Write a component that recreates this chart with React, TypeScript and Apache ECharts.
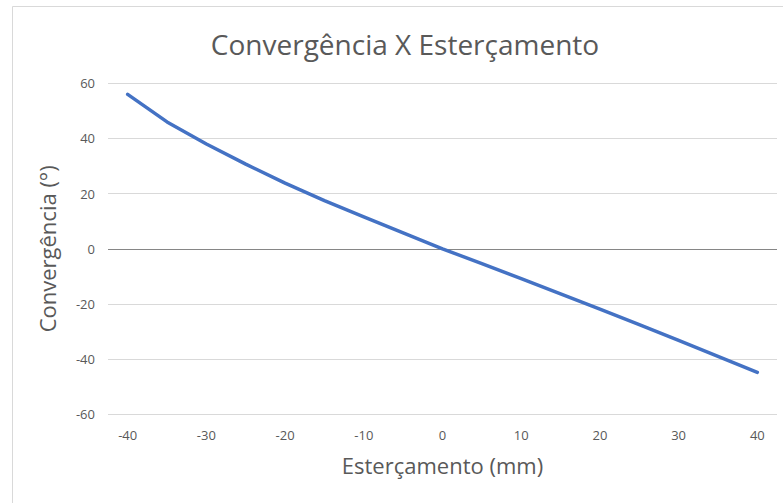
import React, { useEffect, useRef } from "react";
import * as echarts from "echarts";

const esterçamento = [-40, -35, -30, -25, -20, -15, -10, -5, 0, 5, 10, 15, 20, 25, 30, 35, 40];
const convergencia = [56, 46, 38, 30.7, 23.8, 17.5, 11.6, 5.8, 0, -5.4, -10.8, -16.3, -21.9, -27.5, -33.2, -39, -44.8];
const yTicks = [-60, -40, -20, 0, 20, 40, 60];

const titleText = "Convergência X Esterçamento";
const xName = "Esterçamento (mm)";
const yName = "Convergência (°)";

const FONT = "Open Sans";
const TEXT = "#595959";

export default function App() {
  const ref = useRef<HTMLDivElement>(null);
  useEffect(() => {
    if (!ref.current) return;
    const chart = echarts.init(ref.current, null, { renderer: "svg" });
    const splitColors = yTicks.map((t) => (t === 0 ? "#868686" : "#d9d9d9"));
    chart.setOption({
      animation: false,
      backgroundColor: "#ffffff",
      title: {
        text: titleText,
        left: 400,
        top: 25,
        textAlign: "center",
        textStyle: { fontFamily: FONT, fontSize: 28, fontWeight: "normal", color: TEXT },
      },
      graphic: [
        {
          type: "rect",
          z: -1,
          shape: { x: 12.5, y: 6.5, width: 775, height: 600 },
          style: { fill: "none", stroke: "#d9d9d9", lineWidth: 1 },
        },
      ],
      grid: { left: 108, right: 6, top: 83.3, bottom: 88.7, containLabel: false },
      xAxis: {
        type: "category",
        data: esterçamento.map(String),
        boundaryGap: true,
        axisLine: { show: false },
        axisTick: { show: false },
        splitLine: { show: false },
        axisLabel: { interval: 1, color: TEXT, fontFamily: FONT, fontSize: 13, margin: 14 },
        name: xName,
        nameLocation: "middle",
        nameGap: 40,
        nameTextStyle: { fontFamily: FONT, fontSize: 22, color: TEXT },
      },
      yAxis: {
        type: "value",
        min: -60,
        max: 60,
        interval: 20,
        axisLine: { show: false },
        axisTick: { show: false },
        axisLabel: { color: TEXT, fontFamily: FONT, fontSize: 13, margin: 13 },
        splitLine: { show: true, lineStyle: { color: splitColors, width: 1 } },
        name: yName,
        nameLocation: "middle",
        nameGap: 50,
        nameTextStyle: { fontFamily: FONT, fontSize: 22, color: TEXT },
      },
      series: [
        {
          type: "line",
          data: convergencia,
          symbol: "none",
          smooth: false,
          lineStyle: { color: "#4472C4", width: 3.5, cap: "round", join: "round" },
        },
      ],
    });
    return () => chart.dispose();
  }, []);
  return (
    <div
      ref={ref}
      style={{ position: "fixed", left: 0, top: 0, width: 783, height: 503 }}
    />
  );
}
